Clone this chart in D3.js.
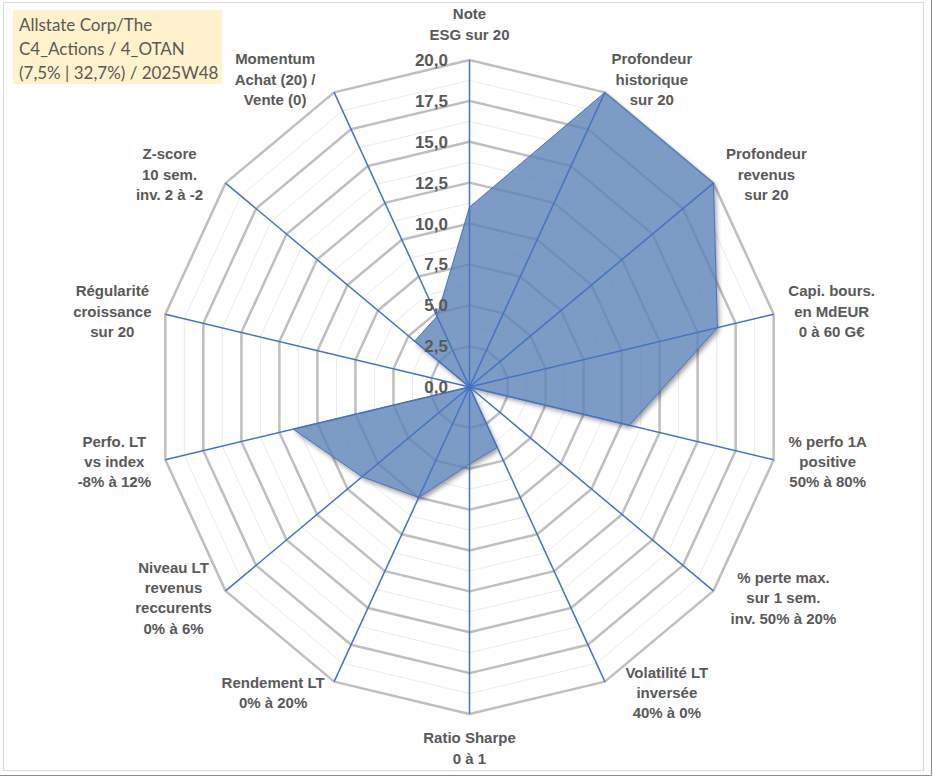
<!DOCTYPE html>
<html>
<head>
<meta charset="utf-8">
<script src="https://cdn.jsdelivr.net/npm/d3@7"></script>
<style>
  body { margin: 0; background: #fff; }
  svg { display: block; }
</style>
</head>
<body>
<div class="container"></div>
<script>
const w = 933;
const h = 776;

// data (scale 0 - 20)
const categories = [
    'Note\nESG sur 20',
    'Profondeur\nhistorique\nsur 20',
    'Profondeur\nrevenus\nsur 20',
    'Capi. bours.\nen MdEUR\n0 à 60 G€',
    '% perfo 1A\npositive\n50% à 80%',
    '% perte max.\nsur 1 sem.\ninv. 50% à 20%',
    'Volatilité LT\ninversée\n40% à 0%',
    'Ratio Sharpe\n0 à 1',
    'Rendement LT\n0% à 20%',
    'Niveau LT\nrevenus\nreccurents\n0% à 6%',
    'Perfo. LT\nvs index\n-8% à 12%',
    'Régularité\ncroissance\nsur 20',
    'Z-score\n10 sem.\ninv. 2 à -2',
    'Momentum\nAchat (20) /\nVente (0)'
];
const values = [11.0, 20, 20, 16.3, 10.5, 0, 4.1, 4.7, 7.5, 8.8, 11.6, 0, 4.5, 4.8];
const tickValues = [0, 2.5, 5, 7.5, 10, 12.5, 15, 17.5, 20];
const tickLabels = ['0,0', '2,5', '5,0', '7,5', '10,0', '12,5', '15,0', '17,5', '20,0'];
const minorTicks = [1.25, 3.75, 6.25, 8.75, 11.25, 13.75, 16.25, 18.75];
const titleLines = ['Allstate Corp/The', 'C4_Actions / 4_OTAN', '(7,5% | 32,7%) / 2025W48'];

// layout
const cx = 469.5;
const cy = 387;
const rx = 312;
const ry = 327;
// label block centre offset from axis end
const labelOffset = [
    [0, -36], [47, -13], [53, -9], [58, -3], [54, 2], [70, 7], [62, 11],
    [0, 34], [-61, 11], [-52, 7], [-51, 2], [-53, -3], [-56, -9], [-59, -13]
];

const n = categories.length;
const angle = d3.scaleLinear().domain([0, n]).range([0, 2 * Math.PI]);
const rScaleX = d3.scaleLinear().domain([0, 20]).range([0, rx]);
const rScaleY = d3.scaleLinear().domain([0, 20]).range([0, ry]);
const px = (i, v) => cx + rScaleX(v) * Math.sin(angle(i));
const py = (i, v) => cy - rScaleY(v) * Math.cos(angle(i));

const svg = d3.select('.container')
    .append('svg')
    .attr('width', w)
    .attr('height', h);

const line = d3.line().curve(d3.curveLinearClosed);
const areaPath = line(values.map((v, i) => [px(i, v), py(i, v)]));

const defs = svg.append('defs');
const shadow = defs.append('filter')
    .attr('id', 'shadow')
    .attr('x', '-10%').attr('y', '-10%')
    .attr('width', '130%').attr('height', '130%');
shadow.append('feGaussianBlur')
    .attr('in', 'SourceAlpha')
    .attr('stdDeviation', 2.5);
shadow.append('feOffset').attr('dx', 2).attr('dy', 3).attr('result', 'off');
shadow.append('feComponentTransfer')
    .append('feFuncA').attr('type', 'linear').attr('slope', 0.4);

// mask so the shadow only shows outside the area
const mask = defs.append('mask').attr('id', 'outside');
mask.append('rect').attr('width', w).attr('height', h).attr('fill', '#fff');
mask.append('path').attr('d', areaPath).attr('fill', '#000');

// chart frame
svg.append('rect')
    .attr('x', 3.5).attr('y', 2.5)
    .attr('width', 920).attr('height', 768)
    .attr('fill', '#fff')
    .attr('stroke', '#d9d9d9');
svg.append('path')
    .attr('d', `M931.5,0V775.5H0`)
    .attr('fill', 'none')
    .attr('stroke', '#8c8c8c');

const ring = v => d3.range(n + 1).map(i => [px(i % n, v), py(i % n, v)]).map(p => p.join(',')).join('L');

// minor rings
svg.append('g')
    .selectAll('path')
    .data(minorTicks)
    .join('path')
    .attr('d', d => 'M' + ring(d) + 'Z')
    .attr('fill', 'none')
    .attr('stroke', '#ebebeb')
    .attr('stroke-width', 1);

// major rings
svg.append('g')
    .selectAll('path')
    .data(tickValues.filter(d => d > 0))
    .join('path')
    .attr('d', d => 'M' + ring(d) + 'Z')
    .attr('fill', 'none')
    .attr('stroke', '#bfbfbf')
    .attr('stroke-width', 2.5)
    .attr('stroke-linejoin', 'round');

// series shadow + area
svg.append('g')
    .attr('mask', 'url(#outside)')
    .append('path')
    .attr('d', areaPath)
    .attr('fill', '#000')
    .attr('filter', 'url(#shadow)');

svg.append('path')
    .datum(values)
    .attr('d', areaPath)
    .attr('fill', '#5b83b8')
    .attr('fill-opacity', 0.8)
    .attr('stroke', '#4472c4')
    .attr('stroke-width', 1)
    .attr('stroke-linejoin', 'round');

// spokes
svg.append('g')
    .selectAll('line')
    .data(categories)
    .join('line')
    .attr('x1', cx).attr('y1', cy)
    .attr('x2', (d, i) => px(i, 20))
    .attr('y2', (d, i) => py(i, 20))
    .attr('stroke', '#4472c4')
    .attr('stroke-width', 1.5);

// value axis labels
svg.append('g')
    .selectAll('text')
    .data(tickValues)
    .join('text')
    .attr('x', cx - 21.5)
    .attr('y', d => cy - rScaleY(d))
    .attr('dy', '0.36em')
    .attr('text-anchor', 'end')
    .style('font-family', 'Arial, "Liberation Sans", sans-serif')
    .style('font-size', '17px')
    .style('font-weight', 'bold')
    .attr('fill', '#595959')
    .text((d, i) => tickLabels[i]);

// category labels
const lineH = 20.3;
const cat = svg.append('g')
    .selectAll('text')
    .data(categories)
    .join('text')
    .attr('text-anchor', 'middle')
    .style('font-family', 'Arial, "Liberation Sans", sans-serif')
    .style('font-size', '15px')
    .style('font-weight', 'bold')
    .attr('fill', '#595959');

cat.each(function (d, i) {
    const lines = d.split('\n');
    const x0 = px(i, 20) + labelOffset[i][0];
    const y0 = py(i, 20) + labelOffset[i][1] - (lines.length - 1) * lineH / 2;
    d3.select(this)
        .selectAll('tspan')
        .data(lines)
        .join('tspan')
        .attr('x', x0)
        .attr('y', (l, j) => y0 + j * lineH)
        .attr('dy', '0.36em')
        .text(l => l);
});

// title box
svg.append('rect')
    .attr('x', 13).attr('y', 10)
    .attr('width', 209).attr('height', 74)
    .attr('fill', '#fff2cc');

svg.append('g')
    .selectAll('text')
    .data(titleLines)
    .join('text')
    .attr('x', 19)
    .attr('y', (d, i) => 25 + i * 24)
    .attr('dy', '0.36em')
    .style('font-family', 'Lato, "Open Sans", sans-serif')
    .style('font-size', '17px')
    .attr('fill', '#595959')
    .text(d => d);
</script>
</body>
</html>
